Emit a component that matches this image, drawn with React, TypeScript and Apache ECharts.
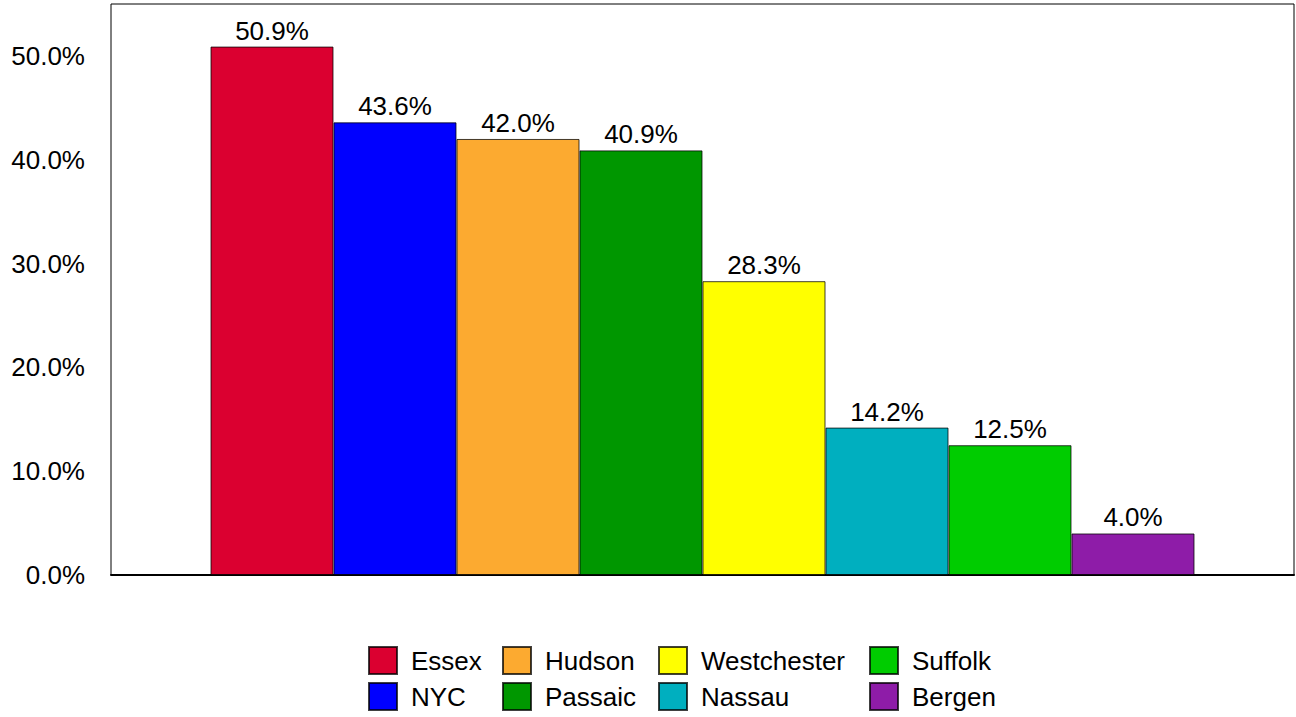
import React, { useEffect, useRef } from "react";
import * as echarts from "echarts";

const categories = [""];
const counties = ["Essex", "NYC", "Hudson", "Passaic", "Westchester", "Nassau", "Suffolk", "Bergen"];
const values = [50.9, 43.6, 42.0, 40.9, 28.3, 14.2, 12.5, 4.0];
const colors = ["#DB0030", "#0000FF", "#FCAA30", "#009700", "#FFFF00", "#00AFBF", "#00CC00", "#8E1CA8"];
const legendColumns = [
  ["Essex", "NYC"],
  ["Hudson", "Passaic"],
  ["Westchester", "Nassau"],
  ["Suffolk", "Bergen"],
];
const legendLefts = [368, 502, 658, 869];

const FONT = "'Liberation Sans', Arial, sans-serif";

export default function App() {
  const ref = useRef<HTMLDivElement>(null);
  useEffect(() => {
    if (!ref.current) return;
    const chart = echarts.init(ref.current, undefined, { renderer: "svg" });
    chart.setOption({
      animation: false,
      backgroundColor: "#fff",
      textStyle: { fontFamily: FONT },
      grid: {
        left: 111,
        right: 2,
        top: 4,
        bottom: 142,
        show: true,
        borderColor: "#000",
        borderWidth: 1,
        backgroundColor: "transparent",
      },
      legend: legendColumns.map((names, i) => ({
        orient: "vertical",
        left: legendLefts[i],
        top: 646,
        padding: 0,
        icon: "rect",
        itemWidth: 28,
        itemHeight: 27,
        itemGap: 7,
        selectedMode: false,
        data: names,
        textStyle: {
          fontSize: 26,
          lineHeight: 27,
          color: "#000",
          fontFamily: FONT,
          padding: [0, 0, 0, 9],
        },
      })),
      xAxis: {
        type: "category",
        data: categories,
        axisLine: { show: true, lineStyle: { color: "#000", width: 2 } },
        axisTick: { show: false },
        axisLabel: { show: false },
        splitLine: { show: false },
      },
      yAxis: {
        type: "value",
        min: 0,
        max: 55,
        interval: 10,
        axisLine: { show: false },
        axisTick: { show: false },
        splitLine: { show: false },
        axisLabel: {
          margin: 26,
          fontSize: 26,
          color: "#000",
          fontFamily: FONT,
          formatter: (v: number) => (v % 10 === 0 ? v.toFixed(1) + "%" : ""),
        },
      },
      series: counties.map((name, i) => ({
        name,
        type: "bar",
        data: [values[i]],
        barWidth: 123,
        barGap: "0%",
        itemStyle: { color: colors[i], borderColor: "rgba(0,0,0,0.75)", borderWidth: 1 },
        label: {
          show: true,
          position: "top",
          distance: 3,
          fontSize: 26,
          color: "#000",
          fontFamily: FONT,
          formatter: (p: any) => Number(p.value).toFixed(1) + "%",
        },
      })),
    });
    return () => chart.dispose();
  }, []);
  return (
    <div
      ref={ref}
      style={{ position: "fixed", left: 0, top: 0, width: 1296, height: 717, background: "#fff" }}
    />
  );
}
